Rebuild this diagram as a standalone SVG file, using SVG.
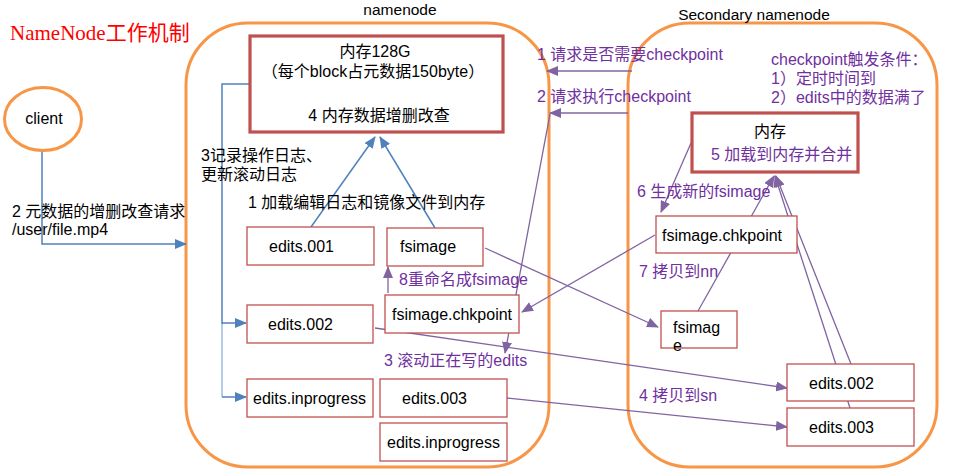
<svg xmlns="http://www.w3.org/2000/svg" width="964" height="471" viewBox="0 0 964 471">
<style>
text{font-family:"Liberation Sans","Noto Sans CJK SC",sans-serif;font-size:16px;fill:#000}
.p{fill:#7030a0}
.box{fill:#fff;stroke:#c0504d;stroke-width:1.3}
.mem{fill:#fff;stroke:#c0504d;stroke-width:3.2}
.cont{fill:none;stroke:#f79646;stroke-width:3}
.pl{fill:none;stroke:#8064a2;stroke-width:1.3}
.bl{fill:none;stroke:#4f81bd;stroke-width:1.5}
</style>
<defs>
<marker id="ap" markerUnits="userSpaceOnUse" markerWidth="12" markerHeight="10" refX="11" refY="5" orient="auto"><path d="M0,0 L12,5 L0,10 z" fill="#8064a2"/></marker>
<marker id="ab" markerUnits="userSpaceOnUse" markerWidth="12" markerHeight="10" refX="11" refY="5" orient="auto"><path d="M0,0 L12,5 L0,10 z" fill="#4f81bd"/></marker>
</defs>
<rect width="964" height="471" fill="#fff"/>
<text x="10" y="40" style="font-family:'Liberation Serif','Noto Sans CJK SC',serif;font-size:21px;fill:#ff0000">NameNode工作机制</text>
<g id="namenode">
<rect class="cont" x="186" y="23" width="363" height="444" rx="62" ry="62"/>
<text x="400" y="15" text-anchor="middle" style="font-size:15.5px">namenode</text>
</g>
<g id="secondary">
<rect class="cont" x="628" y="23" width="309" height="444" rx="62" ry="62"/>
<text x="754" y="20" text-anchor="middle" style="font-size:15.5px">Secondary namenode</text>
</g>
<g id="connectors">
<path class="bl" d="M42,151 V244 H186" marker-end="url(#ab)"/>
<path class="bl" d="M250,84 H222 V324"/>
<path class="bl" d="M222,323 H246" marker-end="url(#ab)"/>
<path d="M222,324 V397" fill="none" stroke="#9dbbe0" stroke-width="1.5"/>
<path class="bl" d="M222,397 H246" marker-end="url(#ab)"/>
<path class="bl" d="M311,227 L375,137" marker-end="url(#ab)"/>
<path class="bl" d="M435,228 L380,137" marker-end="url(#ab)"/>
<path class="pl" d="M632,71 H547" marker-end="url(#ap)"/>
<path class="pl" d="M628,113 H550" marker-end="url(#ap)"/>
<path class="pl" d="M550,114 L505,353" marker-end="url(#ap)"/>
<path class="pl" d="M388,293 V267" marker-end="url(#ap)"/>
<path class="pl" d="M691,143 L661,212" marker-end="url(#ap)"/>
<path class="pl" d="M655,235 L522,312" marker-end="url(#ap)"/>
<path class="pl" d="M485,248 L658,327" marker-end="url(#ap)"/>
<path class="pl" d="M698,311 L774,176" marker-end="url(#ap)"/>
<path class="pl" d="M851,364 L776,176" marker-end="url(#ap)"/>
<path class="pl" d="M850,408 L775,176" marker-end="url(#ap)"/>
<path class="pl" d="M375,328 L787,388" marker-end="url(#ap)"/>
<path class="pl" d="M507,398 L787,427" marker-end="url(#ap)"/>
</g>
<g id="client">
<ellipse cx="43" cy="119" rx="38.5" ry="31.5" fill="#fff" stroke="#f79646" stroke-width="3"/>
<text x="44" y="124" text-anchor="middle">client</text>
</g>
<g id="nn-memory">
<rect class="mem" x="250" y="36" width="253" height="96"/>
<text x="375" y="57" text-anchor="middle">内存128G</text>
<text x="373" y="77" text-anchor="middle">（每个block占元数据150byte）</text>
<text x="379" y="121" text-anchor="middle">4 内存数据增删改查</text>
</g>
<g id="nn-edits001"><rect class="box" x="247" y="227" width="127" height="38"/><text x="269" y="252">edits.001</text></g>
<g id="nn-fsimage"><rect class="box" x="387" y="228" width="96" height="38"/><text x="400" y="252">fsimage</text></g>
<g id="nn-edits002"><rect class="box" x="247" y="305" width="126" height="38"/><text x="268" y="330">edits.002</text></g>
<g id="nn-chkpoint"><rect class="box" x="385" y="295" width="134" height="38"/><text x="392" y="320">fsimage.chkpoint</text></g>
<g id="nn-inprogress1"><rect class="box" x="247" y="379" width="126" height="38"/><text x="253" y="404">edits.inprogress</text></g>
<g id="nn-edits003"><rect class="box" x="380" y="379" width="127" height="38"/><text x="402" y="404">edits.003</text></g>
<g id="nn-inprogress2"><rect class="box" x="380" y="423" width="127" height="38"/><text x="387" y="448">edits.inprogress</text></g>
<g id="sn-memory">
<rect class="mem" x="692" y="113" width="166" height="59"/>
<text x="754" y="137">内存</text>
<text x="711" y="160" class="p">5 加载到内存并合并</text>
</g>
<g id="sn-chkpoint"><rect class="box" x="656" y="216" width="141" height="37"/><text x="662" y="241">fsimage.chkpoint</text></g>
<g id="sn-fsimage"><rect class="box" x="661" y="311" width="76" height="37"/><text x="673" y="333">fsimag</text><text x="673" y="351">e</text></g>
<g id="sn-edits002"><rect class="box" x="787" y="364" width="127" height="37"/><text x="809" y="389">edits.002</text></g>
<g id="sn-edits003"><rect class="box" x="787" y="408" width="127" height="38"/><text x="809" y="433">edits.003</text></g>
<g id="labels">
<text x="12" y="217">2 元数据的增删改查请求</text>
<text x="12" y="235">/user/file.mp4</text>
<text x="201" y="161">3记录操作日志、</text>
<text x="201" y="180">更新滚动日志</text>
<text x="248" y="208">1 加载编辑日志和镜像文件到内存</text>
<text x="399" y="285" class="p">8重命名成fsimage</text>
<text x="384" y="366" class="p">3 滚动正在写的edits</text>
<text x="537" y="60" class="p">1 请求是否需要checkpoint</text>
<text x="537" y="102" class="p">2 请求执行checkpoint</text>
<text x="771" y="65" class="p">checkpoint触发条件：</text>
<text x="771" y="84" class="p">1）定时时间到</text>
<text x="771" y="103" class="p">2）edits中的数据满了</text>
<text x="637" y="197" class="p">6 生成新的fsimage</text>
<text x="639" y="277" class="p">7 拷贝到nn</text>
<text x="639" y="401" class="p">4 拷贝到sn</text>
</g>
</svg>
